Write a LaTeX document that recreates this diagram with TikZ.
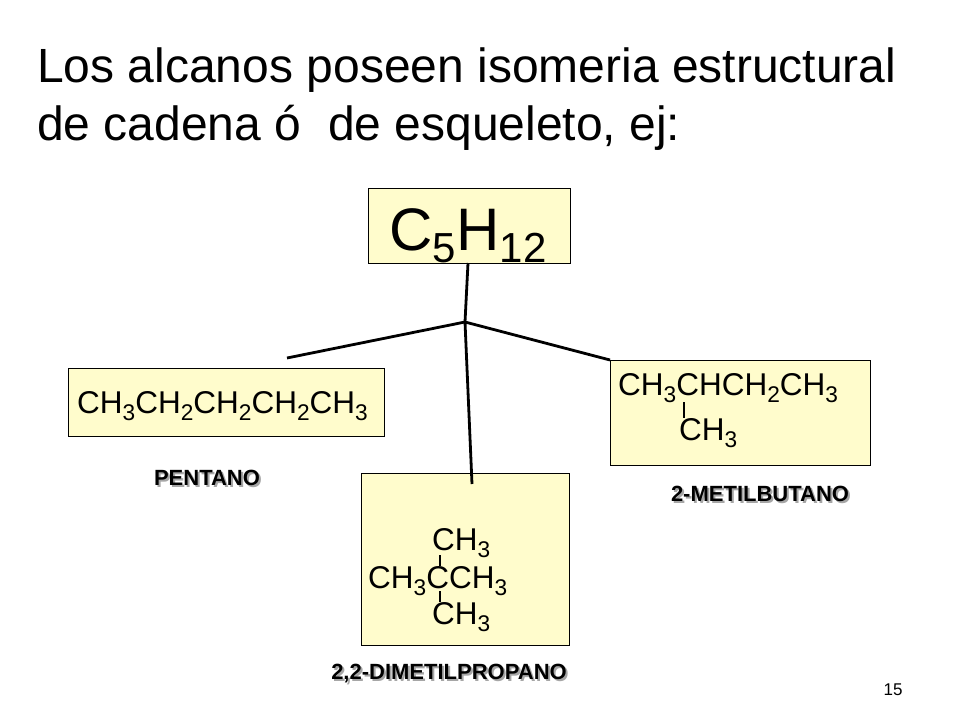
\documentclass[tikz,border=0pt]{standalone}
\usepackage{fontspec}
\setmainfont{Liberation Sans}
\newcommand{\sbs}[1]{\raisebox{-0.25em}{\scalebox{0.72}{#1}}}
\newcommand{\sbb}[1]{\raisebox{-0.2em}{\scalebox{0.7}{#1}}}
\newcommand{\shd}[1]{\rlap{\hspace{2pt}\raisebox{-2pt}{\color{gray!70}#1}}#1}
\begin{document}
\begin{tikzpicture}[x=1pt,y=-1pt,
  box/.style={draw=black,fill=yellow!20,line width=0.8pt},
  conn/.style={line width=2.8pt},
  form/.style={font=\fontsize{31.5}{33}\selectfont,anchor=base west,inner sep=0pt},
  lab/.style={font=\fontsize{22}{24}\selectfont\bfseries,inner sep=0pt,anchor=base}]
\useasboundingbox (0,0) rectangle (960,720);
\node[anchor=base west,inner sep=0pt,font=\fontsize{48}{52}\selectfont] (t1) at (37,82) {Los alcanos poseen isomeria estructural};
\node[anchor=base west,inner sep=0pt,font=\fontsize{48}{52}\selectfont] (t2) at (37,140) {de cadena ó\ \ de esqueleto, ej:};
\draw[box] (368,188) rectangle (570,263);
\node[inner sep=0pt,font=\fontsize{60}{64}\selectfont,anchor=base] (top) at (468,250) {C\sbb{5}H\sbb{12}};
\draw[box] (68,368) rectangle (384,436);
\draw[box] (361,473) rectangle (569,645);
\draw[box] (610,360) rectangle (870,465);
\coordinate (a) at (468,263);
\coordinate (j) at (465,322);
\coordinate (l) at (287,358);
\coordinate (r) at (610,360);
\coordinate (d) at (472,484);
\draw[conn] (a) -- (j);
\draw[conn] (l) -- (j) -- (r);
\draw[conn] (j) -- (d);
\node[form] (p) at (77,413) {CH\sbs{3}CH\sbs{2}CH\sbs{2}CH\sbs{2}CH\sbs{3}};
\node[form] (m1) at (618,395) {CH\sbs{3}CHCH\sbs{2}CH\sbs{3}};
\node[form] (m2) at (679,440) {CH\sbs{3}};
\draw[line width=1.4pt] (684,402) -- (684,418);
\node[form] (d1) at (432,550) {CH\sbs{3}};
\node[form] (d2) at (368,588) {CH\sbs{3}CCH\sbs{3}};
\node[form] (d3) at (432,624) {CH\sbs{3}};
\draw[line width=1.4pt] (440,555) -- (440,566);
\draw[line width=1.4pt] (440,591) -- (440,602);
\node[lab] (lp) at (207,485) {\shd{PENTANO}};
\node[lab] (lm) at (760,501) {\shd{2-METILBUTANO}};
\node[lab] (ld) at (449,679) {\shd{2,2-DIMETILPROPANO}};
\node[inner sep=0pt,anchor=base,font=\fontsize{17}{19}\selectfont] (n) at (893,695) {15};
\end{tikzpicture}
\end{document}
